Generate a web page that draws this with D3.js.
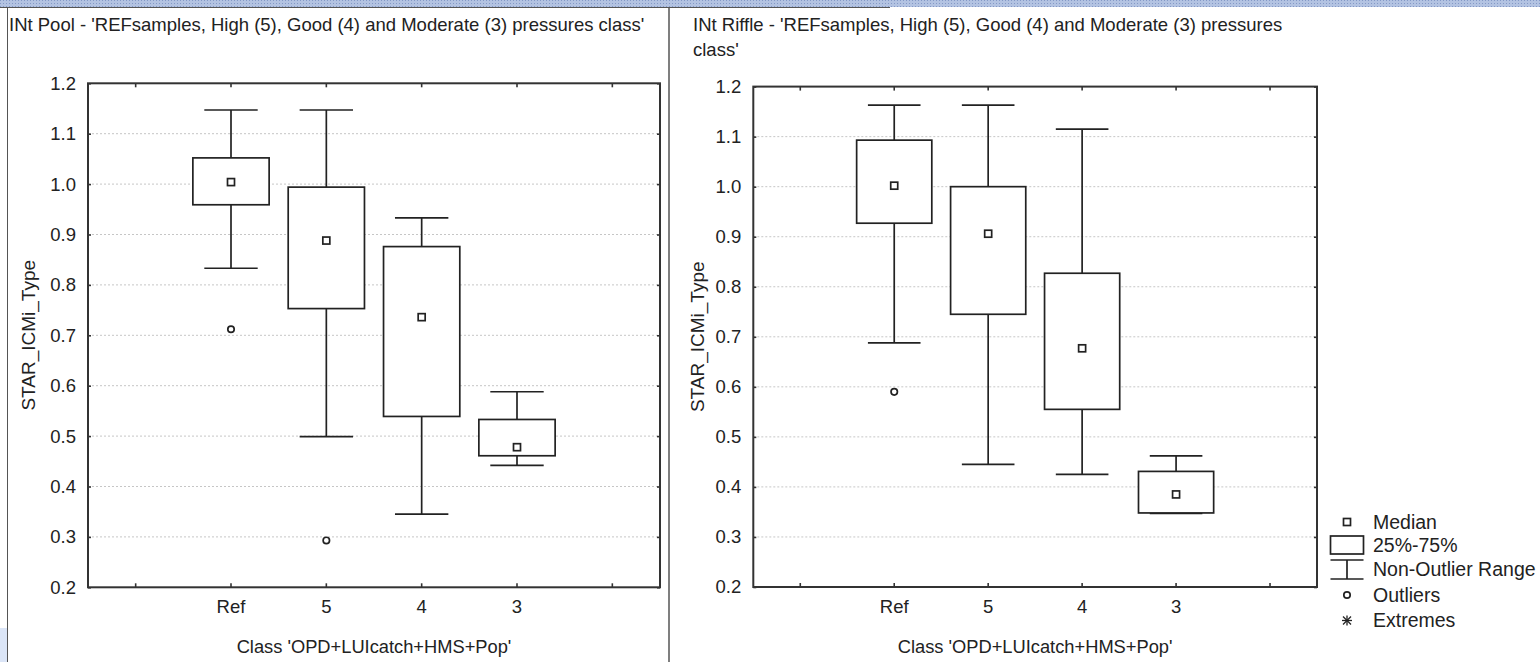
<!DOCTYPE html>
<html>
<head>
    <title>STAR_ICMi boxplots</title>
    <script src="https://cdnjs.cloudflare.com/ajax/libs/d3/7.8.5/d3.min.js"></script>
    <style>
        body { margin: 0; background: #fff; overflow: hidden; }
        text { font-family: Arial, "Liberation Sans", sans-serif; fill: #222; }
        .grid { stroke: #c6c6c6; stroke-width: 1; stroke-dasharray: 2,2; }
        .frame { fill: none; stroke: #333; stroke-width: 2; }
        .mark { fill: #fff; stroke: #222; stroke-width: 1.7; }
        .axis path { display: none; }
        .axis line { stroke: #333; stroke-width: 1.6; }
    </style>
</head>
<body>
    <svg id="chart"></svg>

    <script>
        let width = 1540;
        let height = 662;

        // data
        const categories = ["Ref", "5", "4", "3"];
        const slots = ["_a", "Ref", "5", "4", "3", "_b"];
        const yTicks = [0.2, 0.3, 0.4, 0.5, 0.6, 0.7, 0.8, 0.9, 1.0, 1.1, 1.2];

        const poolMin = [0.833, 0.499, 0.345, 0.442];
        const poolQ1 = [0.959, 0.753, 0.539, 0.461];
        const poolMedian = [1.004, 0.888, 0.736, 0.478];
        const poolQ3 = [1.052, 0.994, 0.876, 0.533];
        const poolMax = [1.147, 1.147, 0.933, 0.588];
        const poolOutliers = [[0.712], [0.293], [], []];

        const riffleMin = [0.688, 0.445, 0.425, 0.347];
        const riffleQ1 = [0.927, 0.745, 0.555, 0.348];
        const riffleMedian = [1.002, 0.906, 0.677, 0.385];
        const riffleQ3 = [1.093, 1.000, 0.827, 0.431];
        const riffleMax = [1.163, 1.163, 1.115, 0.462];
        const riffleOutliers = [[0.590], [], [], []];

        const legendItems = ["Median", "25%-75%", "Non-Outlier Range", "Outliers", "Extremes"];

        const svg = d3.select("#chart")
            .attr("width", width)
            .attr("height", height);

        // window background pieces
        const defs = svg.append("defs");
        const pat = defs.append("pattern")
            .attr("id", "dots")
            .attr("width", 3).attr("height", 3)
            .attr("patternUnits", "userSpaceOnUse");
        pat.append("rect").attr("width", 3).attr("height", 3).attr("fill", "#b3c3e2");
        pat.append("rect").attr("width", 1).attr("height", 1).attr("fill", "#8499c6");

        svg.append("rect").attr("x", 0).attr("y", 0).attr("width", width).attr("height", 7).attr("fill", "url(#dots)");
        svg.append("rect").attr("x", 0).attr("y", 628).attr("width", 7).attr("height", 34).attr("fill", "#dbe5f7");
        svg.append("line").attr("x1", 0).attr("x2", 890).attr("y1", 7.5).attr("y2", 7.5).attr("stroke", "#555");
        svg.append("line").attr("x1", 7.5).attr("x2", 7.5).attr("y1", 8).attr("y2", height).attr("stroke", "#555");
        svg.append("line").attr("x1", 669).attr("x2", 669).attr("y1", 8).attr("y2", height).attr("stroke", "#555").attr("stroke-width", 1.5);

        function drawPanel(p, mins, q1s, meds, q3s, maxs, outs) {
            const g = svg.append("g");

            const x = d3.scaleBand()
                .domain(slots)
                .range([p.left, p.right])
                .padding(0);

            const y = d3.scaleLinear()
                .domain([0.2, 1.2])
                .range([p.bottom, p.top]);

            const bw = x.bandwidth();
            const cx = d => x(d) + bw / 2;

            // dotted grid
            g.selectAll(".grid")
                .data(yTicks.slice(1, -1))
                .join("line")
                .attr("class", "grid")
                .attr("x1", p.left).attr("x2", p.right)
                .attr("y1", d => y(d)).attr("y2", d => y(d));

            // axes, ticks pointing inward
            g.append("g").attr("class", "axis")
                .attr("transform", `translate(${p.left},0)`)
                .call(d3.axisLeft(y).tickValues(yTicks).tickFormat(d3.format(".1f")).tickSize(-3).tickPadding(12))
                .call(a => a.selectAll("text").style("font-size", "18.5px").attr("fill", "#222"));
            g.append("g").attr("class", "axis")
                .attr("transform", `translate(${p.right},0)`)
                .call(d3.axisRight(y).tickValues(yTicks).tickFormat("").tickSize(-3));
            g.append("g").attr("class", "axis")
                .attr("transform", `translate(0,${p.bottom})`)
                .call(d3.axisBottom(x).tickFormat(d => categories.includes(d) ? d : "").tickSize(-4).tickPadding(13))
                .call(a => a.selectAll("text").style("font-size", "18.5px").attr("fill", "#222"));
            g.append("g").attr("class", "axis")
                .attr("transform", `translate(0,${p.top})`)
                .call(d3.axisTop(x).tickFormat("").tickSize(-4));

            g.append("rect").attr("class", "frame")
                .attr("x", p.left).attr("y", p.top)
                .attr("width", p.right - p.left).attr("height", p.bottom - p.top);

            const rows = categories.map((c, i) => ({
                c: c, min: mins[i], q1: q1s[i], med: meds[i], q3: q3s[i], max: maxs[i], out: outs[i]
            }));

            const box = g.selectAll(".box")
                .data(rows)
                .join("g")
                .attr("class", "box");

            // whisker stems
            box.append("line").attr("class", "mark")
                .attr("x1", d => cx(d.c)).attr("x2", d => cx(d.c))
                .attr("y1", d => y(d.max)).attr("y2", d => y(d.q3));
            box.append("line").attr("class", "mark")
                .attr("x1", d => cx(d.c)).attr("x2", d => cx(d.c))
                .attr("y1", d => y(d.q1)).attr("y2", d => y(d.min));
            // caps
            box.append("line").attr("class", "mark")
                .attr("x1", d => cx(d.c) - bw * 0.28).attr("x2", d => cx(d.c) + bw * 0.28)
                .attr("y1", d => y(d.max)).attr("y2", d => y(d.max));
            box.append("line").attr("class", "mark")
                .attr("x1", d => cx(d.c) - bw * 0.28).attr("x2", d => cx(d.c) + bw * 0.28)
                .attr("y1", d => y(d.min)).attr("y2", d => y(d.min));
            // 25-75 box
            box.append("rect").attr("class", "mark")
                .attr("x", d => cx(d.c) - bw * 0.4)
                .attr("width", bw * 0.8)
                .attr("y", d => y(d.q3))
                .attr("height", d => y(d.q1) - y(d.q3));
            // median square
            box.append("rect").attr("class", "mark")
                .attr("x", d => cx(d.c) - 3.5).attr("y", d => y(d.med) - 3.5)
                .attr("width", 7).attr("height", 7);
            // outliers
            box.selectAll(".out")
                .data(d => d.out.map(v => ({c: d.c, v: v})))
                .join("circle")
                .attr("class", "mark out")
                .attr("cx", d => cx(d.c)).attr("cy", d => y(d.v))
                .attr("r", 3.2);

            // titles
            p.title.forEach((t, i) => {
                svg.append("text")
                    .attr("x", p.titleX).attr("y", 31 + i * 25)
                    .style("font-size", "18.5px")
                    .text(t);
            });
            svg.append("text")
                .attr("transform", `translate(${p.yLabelX},${(p.top + p.bottom) / 2}) rotate(-90)`)
                .attr("text-anchor", "middle")
                .attr("dy", "0.35em")
                .style("font-size", "19px")
                .text("STAR_ICMi_Type");
            svg.append("text")
                .attr("x", (p.left + p.right) / 2).attr("y", 653)
                .attr("text-anchor", "middle")
                .style("font-size", "18.3px")
                .text("Class 'OPD+LUIcatch+HMS+Pop'");
        }

        drawPanel({
            left: 88, right: 660, top: 83.3, bottom: 587.3,
            titleX: 9, yLabelX: 28,
            title: ["INt Pool - 'REFsamples, High (5), Good (4) and Moderate (3) pressures class'"]
        }, poolMin, poolQ1, poolMedian, poolQ3, poolMax, poolOutliers);

        drawPanel({
            left: 753.3, right: 1317, top: 86.6, bottom: 587,
            titleX: 693, yLabelX: 697,
            title: ["INt Riffle - 'REFsamples, High (5), Good (4) and Moderate (3) pressures", "class'"]
        }, riffleMin, riffleQ1, riffleMedian, riffleQ3, riffleMax, riffleOutliers);

        // legend
        const lg = svg.append("g").attr("transform", "translate(1347,0)");
        const rowY = [522, 545, 569.5, 595, 620.5];

        lg.append("rect").attr("class", "mark").attr("x", -3.5).attr("y", rowY[0] - 3.5).attr("width", 7).attr("height", 7);
        lg.append("rect").attr("class", "mark").attr("x", -16.5).attr("y", 536).attr("width", 33).attr("height", 18);
        lg.append("line").attr("class", "mark").attr("x1", -16.5).attr("x2", 16.5).attr("y1", 560).attr("y2", 560);
        lg.append("line").attr("class", "mark").attr("x1", -16.5).attr("x2", 16.5).attr("y1", 579).attr("y2", 579);
        lg.append("line").attr("class", "mark").attr("x1", 0).attr("x2", 0).attr("y1", 560).attr("y2", 579);
        lg.append("circle").attr("class", "mark").attr("cx", 0).attr("cy", rowY[3]).attr("r", 3.2);
        const star = lg.append("g").attr("transform", `translate(0,${rowY[4]})`);
        [[-5, 0, 5, 0], [0, -5, 0, 5], [-4, -4, 4, 4], [-4, 4, 4, -4]].forEach(s => {
            star.append("line").attr("x1", s[0]).attr("y1", s[1]).attr("x2", s[2]).attr("y2", s[3])
                .attr("stroke", "#222").attr("stroke-width", 1.3);
        });

        lg.selectAll(".lt")
            .data(legendItems)
            .join("text")
            .attr("class", "lt")
            .attr("x", 26)
            .attr("y", (d, i) => rowY[i])
            .attr("dy", "0.35em")
            .style("font-size", "19.5px")
            .text(d => d);
    </script>
</body>
</html>
